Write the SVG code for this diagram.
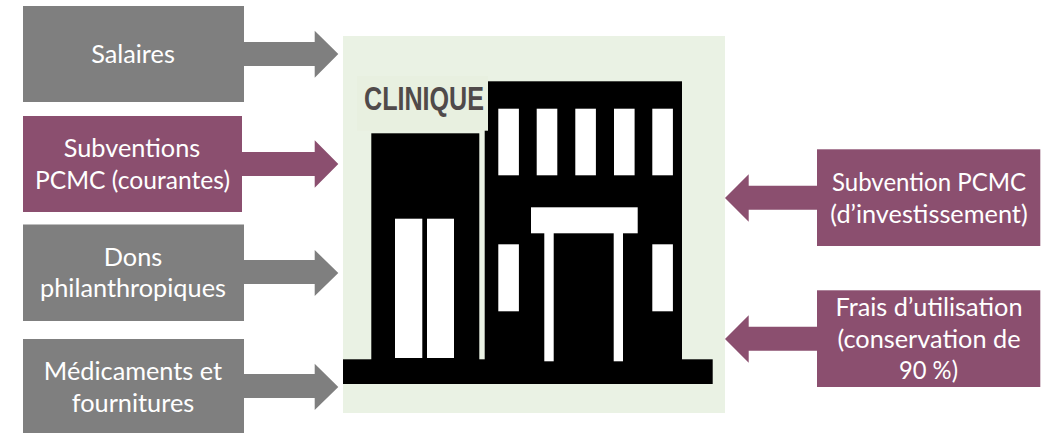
<svg xmlns="http://www.w3.org/2000/svg" width="1049" height="433" viewBox="0 0 1049 433">
<style>
.g{fill:#7f7f7f}
.p{fill:#8b4f6f}
.k{fill:#000}
.w{fill:#fff}
text{font-family:"Lato","Open Sans","Liberation Sans",sans-serif;font-size:25.3px;fill:#fff;text-anchor:middle}
</style>
<rect width="1049" height="433" fill="#fff"/>
<g id="clinique">
<rect x="343" y="36" width="382" height="377" fill="#eaf2e4"/>
<rect class="k" x="484.7" y="81.3" width="197.3" height="280"/>
<rect class="k" x="371.3" y="133.3" width="108" height="228"/>
<rect class="k" x="343" y="359.3" width="369.7" height="24.7"/>
<rect x="357" y="76" width="131" height="54.7" fill="#e8f0e0"/>
<text x="424" y="109.5" style="font-family:'Liberation Sans',sans-serif;font-weight:bold;font-size:33.5px;fill:#504a4a" textLength="120" lengthAdjust="spacingAndGlyphs">CLINIQUE</text>
<rect class="w" x="498.3" y="108.7" width="20.6" height="66.6"/>
<rect class="w" x="536.7" y="108.7" width="20.6" height="66.6"/>
<rect class="w" x="575.3" y="108.7" width="20.6" height="66.6"/>
<rect class="w" x="614" y="108.7" width="20.6" height="66.6"/>
<rect class="w" x="652.3" y="108.7" width="20.6" height="66.6"/>
<rect class="w" x="531" y="207.3" width="106.7" height="26"/>
<rect class="w" x="544.3" y="233" width="9.4" height="128.3"/>
<rect class="w" x="613.7" y="233" width="9.3" height="128.3"/>
<rect class="w" x="498.3" y="244.3" width="20.6" height="67"/>
<rect class="w" x="652.3" y="244.3" width="20.6" height="67"/>
<rect class="w" x="395" y="218.7" width="27.3" height="139.3"/>
<rect class="w" x="427" y="218.7" width="27" height="139.3"/>
</g>
<g id="connectors">
<polygon class="g" points="244,42 314.7,42 314.7,30.7 338.3,54 314.7,77.7 314.7,66 244,66"/>
<polygon class="p" points="242,152 314.7,152 314.7,140.3 338.3,164 314.7,187.7 314.7,176 242,176"/>
<polygon class="g" points="244,260 314.7,260 314.7,250 338.3,273 314.7,296 314.7,284 244,284"/>
<polygon class="g" points="244,374 314.7,374 314.7,363.7 338.3,387 314.7,410 314.7,398 244,398"/>
<polygon class="p" points="817,185.7 748.7,185.7 748.7,174.3 725,198 748.7,221.7 748.7,209.7 817,209.7"/>
<polygon class="p" points="817,326.7 748.7,326.7 748.7,315.3 725,339 748.7,362.7 748.7,350.7 817,350.7"/>
</g>
<g id="salaires"><rect class="g" x="23" y="6" width="221" height="96"/><text x="133" y="63">Salaires</text></g>
<g id="subventions"><rect class="p" x="23" y="116" width="219" height="96"/><text x="132" y="157">Subventions</text><text x="132.500" y="188.5" textLength="195" lengthAdjust="spacingAndGlyphs">PCMC (courantes)</text></g>
<g id="dons"><rect class="g" x="23" y="224.5" width="221" height="96.5"/><text x="133" y="265.5">Dons</text><text x="133" y="297">philanthropiques</text></g>
<g id="medicaments"><rect class="g" x="23" y="339" width="221" height="94"/><text x="133" y="380">Médicaments et</text><text x="133" y="411.5">fournitures</text></g>
<g id="investissement"><rect class="p" x="817" y="149.3" width="223.3" height="96.7"/><text x="929" y="191" textLength="194" lengthAdjust="spacingAndGlyphs">Subvention PCMC</text><text x="929" y="222.5">(d’investissement)</text></g>
<g id="utilisation"><rect class="p" x="817" y="290.3" width="223.3" height="96.7"/><text x="929" y="316">Frais d’utilisation</text><text x="929" y="347.5">(conservation de</text><text x="928.500" y="379" textLength="59" lengthAdjust="spacingAndGlyphs">90 %)</text></g>
</svg>
